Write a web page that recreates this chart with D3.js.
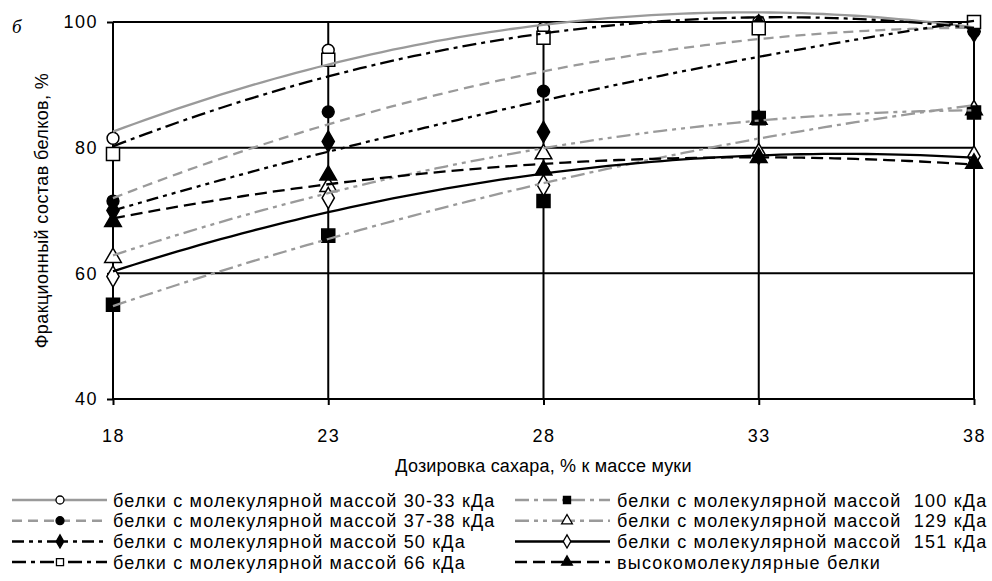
<!DOCTYPE html>
<html>
<head>
<meta charset="utf-8">
<script src="https://cdn.jsdelivr.net/npm/d3@7"></script>
<style>
  body { margin: 0; background: #fff; }
  svg { font-family: Arial, "Liberation Sans", sans-serif; }
</style>
</head>
<body>
<div id="chart"></div>
<script>
// sugar dosage, % of flour mass
const doses = [18, 23, 28, 33, 38];
const yTicks = [40, 60, 80, 100];

// protein fractions, %
const kda30 = [81.5, 95.5, 99, 100, 100];
const kda37 = [71.5, 85.7, 89, 99.5, 98.5];
const kda50 = [70, 81, 82.5, 99.5, 98.5];
const kda66 = [79, 94, 97.5, 99, 100];
const kda100 = [55, 66, 71.5, 84.7, 85.6];
const kda129 = [62.5, 73.8, 79, 84.5, 86];
const kda151 = [59.5, 72, 74, 79, 78.6];
const highMol = [68.2, 75.6, 76.4, 78.4, 77.5];

const seriesNames = [
  "белки с молекулярной массой 30-33 кДа",
  "белки с молекулярной массой 37-38 кДа",
  "белки с молекулярной массой 50 кДа",
  "белки с молекулярной массой 66 кДа",
  "белки с молекулярной массой  100 кДа",
  "белки с молекулярной массой  129 кДа",
  "белки с молекулярной массой  151 кДа",
  "высокомолекулярные белки"
];

const GRAY = "#9a9a9a";
const series = [
  { name: seriesNames[0], values: kda30, color: GRAY, dash: null, marker: "circle", fill: "#fff" },
  { name: seriesNames[1], values: kda37, color: GRAY, dash: "10,6", marker: "circle", fill: "#000" },
  { name: seriesNames[2], values: kda50, color: "#000", dash: "12,5,4,5,4,5", marker: "diamond", fill: "#000" },
  { name: seriesNames[3], values: kda66, color: "#000", dash: "14,5,4,5", marker: "square", fill: "#fff" },
  { name: seriesNames[4], values: kda100, color: GRAY, dash: "14,5,4,5", marker: "square", fill: "#000" },
  { name: seriesNames[5], values: kda129, color: GRAY, dash: "14,5,4,5,4,5", marker: "triangle", fill: "#fff" },
  { name: seriesNames[6], values: kda151, color: "#000", dash: null, marker: "diamond", fill: "#fff" },
  { name: seriesNames[7], values: highMol, color: "#000", dash: "12,6", marker: "triangle", fill: "#000" }
];
// markers of 129 kDa sit under the filled squares in the original
const markerOrder = [5, 0, 1, 2, 3, 4, 6, 7];

const width = 992, height = 581;
const svg = d3.select("#chart").append("svg")
  .attr("width", width)
  .attr("height", height);

const x = d3.scaleLinear().domain([18, 38]).range([113, 974]);
const y = d3.scaleLinear().domain([40, 100]).range([399, 22]);

// grid
svg.append("g")
  .selectAll("line")
  .data(yTicks)
  .enter()
  .append("line")
  .attr("x1", x(18)).attr("x2", x(38))
  .attr("y1", d => y(d)).attr("y2", d => y(d))
  .attr("stroke", "#000").attr("stroke-width", 2);

svg.append("g")
  .selectAll("line")
  .data(doses)
  .enter()
  .append("line")
  .attr("x1", d => x(d)).attr("x2", d => x(d))
  .attr("y1", y(100)).attr("y2", y(40))
  .attr("stroke", "#000").attr("stroke-width", 2);

// axes
let xAxis = svg.append("g")
  .attr("transform", "translate(0," + y(40) + ")")
  .call(d3.axisBottom(x).tickValues(doses).tickSize(6).tickPadding(24));
let yAxis = svg.append("g")
  .attr("transform", "translate(" + x(18) + ",0)")
  .call(d3.axisLeft(y).tickValues(yTicks).tickSize(6).tickPadding(9));
[xAxis, yAxis].forEach(a => {
  a.select(".domain").remove();
  a.selectAll("line").attr("stroke", "#000").attr("stroke-width", 2);
  a.selectAll("text").attr("font-size", 18).attr("fill", "#000")
    .attr("letter-spacing", 1.5)
    .style("font-family", "Arial, 'Liberation Sans', sans-serif");
});

// quadratic least-squares trendline (as in the original spreadsheet chart)
function quadFit(xs, ys) {
  let n = xs.length, sx = 0, sx2 = 0, sx3 = 0, sx4 = 0, sy = 0, sxy = 0, sx2y = 0;
  for (let i = 0; i < n; i++) {
    let u = xs[i], v = ys[i];
    sx += u; sx2 += u * u; sx3 += u * u * u; sx4 += u * u * u * u;
    sy += v; sxy += u * v; sx2y += u * u * v;
  }
  let M = [[n, sx, sx2, sy], [sx, sx2, sx3, sxy], [sx2, sx3, sx4, sx2y]];
  for (let i = 0; i < 3; i++) {
    for (let k = i + 1; k < 3; k++) {
      let f = M[k][i] / M[i][i];
      for (let j = i; j < 4; j++) M[k][j] -= f * M[i][j];
    }
  }
  let c = [0, 0, 0];
  for (let i = 2; i >= 0; i--) {
    let s = M[i][3];
    for (let j = i + 1; j < 3; j++) s -= M[i][j] * c[j];
    c[i] = s / M[i][i];
  }
  return t => c[0] + c[1] * t + c[2] * t * t;
}

function symbolFor(m) {
  if (m === "circle") return d3.symbol(d3.symbolCircle, 110);
  if (m === "square") return d3.symbol(d3.symbolSquare, 170);
  if (m === "diamond") return d3.symbol(d3.symbolDiamond, 130);
  return d3.symbol(d3.symbolTriangle, 120);
}

// markers first, trendlines over them
markerOrder.forEach(k => {
  let s = series[k];
  svg.append("g")
    .selectAll("path")
    .data(s.values.map((v, i) => [doses[i], v]))
    .enter()
    .append("path")
    .attr("transform", d => "translate(" + x(d[0]) + "," + y(d[1]) + ")")
    .attr("d", symbolFor(s.marker)())
    .attr("fill", s.fill)
    .attr("stroke", "#000")
    .attr("stroke-width", 1.5);
});

let line = d3.line().x(d => x(d[0])).y(d => y(d[1]));
let steps = d3.range(18, 38.01, 0.25);

series.forEach(s => {
  let f = quadFit(doses, s.values);
  svg.append("path")
    .datum(steps.map(t => [t, f(t)]))
    .attr("d", line)
    .attr("fill", "none")
    .attr("stroke", s.color)
    .attr("stroke-width", 2.3)
    .attr("stroke-dasharray", s.dash);
});

// titles
svg.append("text")
  .attr("x", 12).attr("y", 33)
  .attr("font-family", "'Liberation Serif', 'DejaVu Serif', serif")
  .attr("font-style", "italic")
  .attr("font-size", 19)
  .text("б");

svg.append("text")
  .attr("transform", "translate(48," + ((y(40) + y(100)) / 2) + ") rotate(-90)")
  .attr("text-anchor", "middle")
  .attr("font-size", 18)
  .attr("letter-spacing", 0.4)
  .text("Фракционный состав белков, %");

svg.append("text")
  .attr("x", (x(18) + x(38)) / 2).attr("y", 472)
  .attr("text-anchor", "middle")
  .attr("font-size", 18)
  .attr("letter-spacing", 0.2)
  .text("Дозировка сахара, % к массе муки");

// legend
let legend = svg.append("g");
series.forEach((s, i) => {
  let col = Math.floor(i / 4), row = i % 4;
  let x0 = col === 0 ? 12 : 515;
  let yy = 500 + row * 20.7;
  let g = legend.append("g").attr("transform", "translate(" + x0 + "," + yy + ")");
  g.append("line")
    .attr("x1", 0).attr("x2", 95)
    .attr("y1", 0).attr("y2", 0)
    .attr("stroke", s.color)
    .attr("stroke-width", 2.5)
    .attr("stroke-dasharray", s.dash);
  g.append("path")
    .attr("transform", "translate(" + (col === 0 ? 48 : 52) + ",0)")
    .attr("d", d3.symbol(symbolFor(s.marker).type(), 50)())
    .attr("fill", s.fill)
    .attr("stroke", "#000")
    .attr("stroke-width", 1.3);
  g.append("text")
    .attr("x", col === 0 ? 101 : 102)
    .attr("y", 6.5)
    .attr("font-size", 18)
    .attr("letter-spacing", 1.2)
    .style("white-space", "pre")
    .text(s.name);
});
</script>
</body>
</html>
